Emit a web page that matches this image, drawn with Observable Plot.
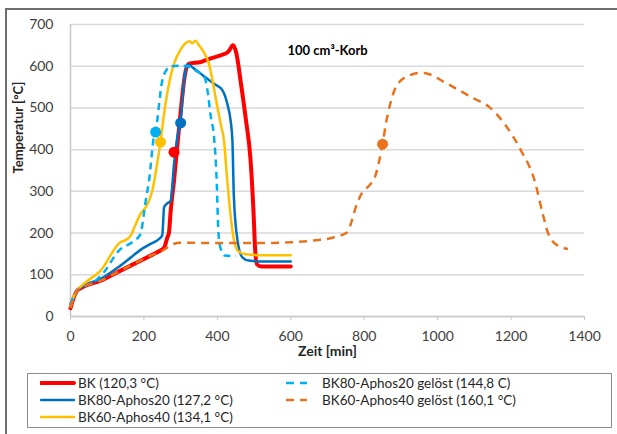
<!DOCTYPE html>
<html><head><meta charset="utf-8">
<script src="https://cdn.jsdelivr.net/npm/d3@7"></script>
<script src="https://cdn.jsdelivr.net/npm/@observablehq/plot@0.6"></script>
<style>
body{margin:0;background:#fff;font-family:Lato,"Open Sans",sans-serif;}
#wrap{position:relative;width:617px;height:434px;overflow:hidden;background:#fff;}
#frame{position:absolute;left:5px;top:8px;width:700px;height:500px;border-top:2px solid #6e6e6e;border-left:2px solid #6e6e6e;}
#chart{position:absolute;left:0;top:0;}
#legend{position:absolute;left:27px;top:373px;width:585px;height:55px;border:1px solid #8c8c8c;box-sizing:border-box;background:#fff;}
.item{position:absolute;font-size:13.5px;color:#262626;white-space:nowrap;display:flex;align-items:center;height:16px;}
.item svg{margin-right:2px;}
</style></head>
<body>
<div id="wrap"><div id="frame"></div><div id="chart"></div><div id="legend"></div></div>
<script>
// Series labels and colours
const seriesNames = ["BK (120,3 °C)", "BK80-Aphos20 (127,2 °C)", "BK60-Aphos40 (134,1 °C)", "BK80-Aphos20 gelöst (144,8 C)", "BK60-Aphos40 gelöst (160,1 °C)"];
const seriesColors = ["#ff0000", "#0070c0", "#ffc000", "#00b0f0", "#e8731f"];
const seriesWidths = [4, 2.5, 2.5, 2.5, 2.5];
const seriesDash = [null, null, null, "7,5", "8,6"];

// BK
const bkT = [0,5,18,32,82,136,218,240,255,264,268,273,282,295,314,323,355,382,409,430,443,452,464,478,490,498,503,508,520,600];
const bkY = [20,35,62,70,86,110,146,156,165,190,200,254,326,446,590,606,610,619,626,635,650,630,560,470,380,260,160,125,120,120];
// BK80-Aphos20
const blT = [0,5,18,32,82,136,200,218,240,250,255,262,273,282,291,300,310,318,340,365,391,414,427,436,441,445,455,468,486,520,600];
const blY = [30,40,62,72,90,122,165,174,185,195,262,270,278,366,430,470,570,604,592,575,558,542,510,470,422,286,182,142,134,132,132];
// BK60-Aphos40
const ylT = [0,5,18,36,82,136,150,164,177,190,205,223,236,245,255,270,282,300,315,325,332,340,350,362,377,395,409,418,427,441,455,477,520,600];
const ylY = [25,40,62,78,110,178,183,194,220,245,262,302,366,418,487,565,606,640,656,660,655,661,650,635,606,526,462,422,326,206,158,149,147,147];
// BK80-Aphos20 gelöst
const lbT = [0,5,18,32,68,91,132,168,191,200,205,214,227,232,250,262,273,300,320,340,365,373,382,391,398,403,410,420,450];
const lbY = [28,40,62,70,86,106,158,178,198,247,278,326,430,446,566,592,600,601,600,590,574,542,480,430,330,200,160,146,145];
// BK60-Aphos40 gelöst
const orT = [0,5,18,32,82,136,218,255,275,300,400,500,600,650,718,754,768,777,795,814,832,841,850,859,871,886,900,923,955,973,1018,1055,1100,1141,1182,1227,1264,1286,1300,1327,1355];
const orY = [20,35,62,70,86,110,146,160,172,177,176,176,178,181,190,202,235,262,298,314,342,374,413,462,510,550,566,578,584,582,562,544,522,502,462,398,326,247,202,170,162];

// Marker points (one per series)
const dotSeries = [0,1,2,3,4];
const dotT = [282,300,245,232,850];
const dotY = [394,464,418,442,413];

// Axis ticks
const xTicks = [0,200,400,600,800,1000,1200,1400];
const yTicks = [0,100,200,300,400,500,600,700];

const titleText = "100 cm³-Korb";
const xLabel = "Zeit [min]";
const yLabel = "Temperatur [°C]";

const allT = [bkT, blT, ylT, lbT, orT];
const allY = [bkY, blY, ylY, lbY, orY];
const series = allT.map((ts, i) => ts.map((t, j) => ({t, T: allY[i][j]})));
const dots = dotSeries.map((s, i) => ({t: dotT[i], T: dotY[i], c: seriesColors[s]}));

const lineMarks = series.map((d, i) => Plot.line(d, {
  x: "t", y: "T", stroke: seriesColors[i], strokeWidth: seriesWidths[i],
  strokeDasharray: seriesDash[i] || undefined, curve: "monotone-x",
  strokeLinejoin: "round", strokeLinecap: seriesDash[i] ? "butt" : "round"
}));

const chart = Plot.plot({
  width: 617, height: 360,
  marginLeft: 70, marginRight: 33, marginTop: 24, marginBottom: 44,
  style: {fontFamily: "Lato, 'Open Sans', sans-serif", color: "#404040", background: "transparent"},
  x: {domain: [0, 1400]},
  y: {domain: [0, 700]},
  marks: [
    Plot.gridY(yTicks, {stroke: "#d9d9d9", strokeOpacity: 1, strokeWidth: 1.5}),
    Plot.ruleX([0], {stroke: "#c8c8c8", strokeWidth: 1.5}),
    Plot.ruleY([0], {stroke: "#c8c8c8", strokeWidth: 1.5}),
    Plot.axisY({ticks: yTicks, tickSize: 0, tickPadding: 17, fontSize: 14, label: null, tickFormat: d => String(d)}),
    Plot.axisX({ticks: xTicks, tickSize: 4, tickPadding: 11, fontSize: 14, label: null, stroke: "#c8c8c8", tickFormat: d => String(d)}),
    ...lineMarks,
    Plot.dot(dots, {x: "t", y: "T", fill: "c", r: 5.5, stroke: "none"}),
    Plot.text([titleText], {frameAnchor: "top-left", dx: 217, dy: 21, textAnchor: "start", fontWeight: "bold", fontSize: 13, fill: "#000"}),
    Plot.text([xLabel], {frameAnchor: "bottom", dy: 39, fontWeight: "bold", fontSize: 14, fill: "#262626"}),
    Plot.text([yLabel], {frameAnchor: "left", dx: -52, dy: 3, rotate: -90, fontWeight: "bold", fontSize: 13, fill: "#262626"})
  ]
});
document.getElementById("chart").appendChild(chart);

// Legend
const legend = document.getElementById("legend");
const pos = [[12, 1], [12, 18], [12, 35], [257, 1], [257, 18]];
seriesNames.forEach((name, i) => {
  const div = document.createElement("div");
  div.className = "item";
  div.style.left = pos[i][0] + "px";
  div.style.top = pos[i][1] + "px";
  const dashed = !!seriesDash[i];
  const w = dashed ? 22 : 34;
  const sw = i === 0 ? 4 : 2.5;
  div.innerHTML = `<svg width="${dashed ? 35 : 36}" height="16"><line x1="1" x2="${w}" y1="8" y2="8" stroke="${seriesColors[i]}" stroke-width="${sw}" ${dashed ? 'stroke-dasharray="8,6"' : 'stroke-linecap="round"'}/></svg><span>${name}</span>`;
  legend.appendChild(div);
});
</script>
</body></html>
